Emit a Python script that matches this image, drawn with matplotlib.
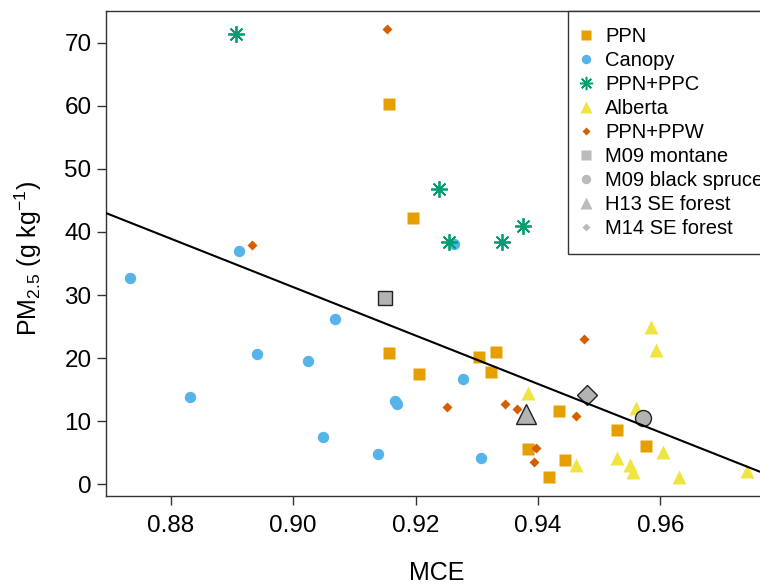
import matplotlib
matplotlib.use("Agg")
import matplotlib.pyplot as plt
from matplotlib.lines import Line2D
import numpy as np

plt.rcParams['font.family'] = ['Liberation Sans', 'DejaVu Sans']
plt.rcParams['mathtext.fontset'] = 'custom'
plt.rcParams['mathtext.rm'] = 'Liberation Sans'
plt.rcParams['mathtext.it'] = 'Liberation Sans:italic'
plt.rcParams['mathtext.bf'] = 'Liberation Sans:bold'

# ---- data (MCE, PM2.5 emission factor g/kg) ----
ppn_mce = [0.9156, 0.9195, 0.9156, 0.9205, 0.9304, 0.9332, 0.9324, 0.9434, 0.9529, 0.9576, 0.9383, 0.9444, 0.9418]
ppn_pm = [60.2, 42.2, 20.8, 17.5, 20.2, 21.0, 17.85, 11.6, 8.65, 6.0, 5.6, 3.9, 1.15]

canopy_mce = [0.8733, 0.8911, 0.9262, 0.9069, 0.8940, 0.9024, 0.8831, 0.9166, 0.9170, 0.9049, 0.9138, 0.9278, 0.9307]
canopy_pm = [32.7, 36.9, 38.1, 26.2, 20.7, 19.5, 13.8, 13.25, 12.7, 7.5, 4.75, 16.7, 4.2]

ppc_mce = [0.8907, 0.9239, 0.9255, 0.9341, 0.9375]
ppc_pm = [71.3, 46.75, 38.35, 38.35, 40.9]

alberta_mce = [0.9584, 0.9593, 0.9384, 0.9560, 0.9604, 0.9463, 0.9529, 0.9550, 0.9555, 0.9631, 0.9742]
alberta_pm = [24.9, 21.3, 14.5, 12.1, 5.2, 3.0, 4.2, 3.1, 2.0, 1.2, 2.15]

ppw_mce = [0.9154, 0.8933, 0.9475, 0.9251, 0.9346, 0.9366, 0.9462, 0.9397, 0.9393]
ppw_pm = [72.2, 37.9, 23.0, 12.3, 12.8, 12.0, 10.9, 5.7, 3.6]

m09_montane = (0.9150, 29.55)
m09_spruce = (0.9571, 10.55)
h13_se = (0.9380, 11.2)
m14_se = (0.9480, 14.1)

fit_intercept = 376.4
fit_slope = -383.5

legend_labels = ["PPN", "Canopy", "PPN+PPC", "Alberta", "PPN+PPW",
                 "M09 montane", "M09 black spruce", "H13 SE forest", "M14 SE forest"]
x_ticks = [0.88, 0.90, 0.92, 0.94, 0.96]
y_ticks = [0, 10, 20, 30, 40, 50, 60, 70]

# ---- colours ----
c_ppn = '#E69F00'
c_can = '#56B4E9'
c_ppc = '#009E73'
c_alb = '#F0E442'
c_ppw = '#D55E00'
c_gray = '#B3B3B3'
c_axis = '#333333'

W, H = 760, 585
fig = plt.figure(figsize=(W / 100, H / 100), dpi=100)
left_px, right_px, top_px, bot_px = 106, 768, 10.7, 496
ax = fig.add_axes([left_px / W, 1 - bot_px / H, (right_px - left_px) / W, (bot_px - top_px) / H])

xlim = (0.8694, 0.9776)
ylim = (-1.85, 75.05)
ax.set_xlim(*xlim)
ax.set_ylim(*ylim)

ax.plot(ppn_mce, ppn_pm, ls='none', marker='s', ms=8, mfc=c_ppn, mec='none', zorder=3)
ax.plot(canopy_mce, canopy_pm, ls='none', marker='o', ms=8.2, mfc=c_can, mec='none', zorder=3)
ax.plot(alberta_mce, alberta_pm, ls='none', marker='^', ms=9.5, mfc=c_alb, mec='none', zorder=3)
ax.plot(ppw_mce, ppw_pm, ls='none', marker='D', ms=5.6, mfc=c_ppw, mec='none', zorder=3)
ax.plot(ppc_mce, ppc_pm, ls='none', marker=(8, 2, 0), ms=12, mec=c_ppc, mew=1.3, zorder=4)

gkw = dict(ls='none', mfc=c_gray, mec='#222222', mew=1.0, zorder=4)
ax.plot([m09_montane[0]], [m09_montane[1]], marker='s', ms=10.5, **gkw)
ax.plot([m09_spruce[0]], [m09_spruce[1]], marker='o', ms=11.5, **gkw)
ax.plot([h13_se[0]], [h13_se[1]], marker='^', ms=15, **gkw)
ax.plot([m14_se[0]], [m14_se[1]], marker='D', ms=10.5, **gkw)

xx = np.array(xlim)
ax.plot(xx, fit_intercept + fit_slope * xx, color='black', lw=1.5, zorder=5)

# axes styling
for s in ax.spines.values():
    s.set_color(c_axis)
    s.set_linewidth(1.0)
ax.set_xticks(x_ticks)
ax.set_xticklabels([f"{v:.2f}" for v in x_ticks])
ax.set_yticks(y_ticks)
ax.set_yticklabels([str(v) for v in y_ticks])
ax.tick_params(axis='both', direction='out', length=6.5, width=1.0, color=c_axis, labelsize=17.5)
ax.tick_params(axis='x', pad=7)
ax.tick_params(axis='y', pad=4)

ax.set_xlabel('MCE', fontsize=18)
ax.xaxis.set_label_coords(0.5, -0.158)
ax.xaxis.label.set_verticalalignment('center')
ax.set_ylabel(r'PM$_{\mathrm{2.5}}$ (g kg$^{\mathrm{-1}}$)', fontsize=18)
ax.yaxis.set_label_coords(-0.118, 0.49)
ax.yaxis.label.set_verticalalignment('center')

# legend
lg_gray = '#BBBBBB'
handles = [
    Line2D([], [], ls='none', marker='s', ms=6.5, mfc=c_ppn, mec='none'),
    Line2D([], [], ls='none', marker='o', ms=6.8, mfc=c_can, mec='none'),
    Line2D([], [], ls='none', marker=(8, 2, 0), ms=9.5, mec=c_ppc, mew=1.1),
    Line2D([], [], ls='none', marker='^', ms=8, mfc=c_alb, mec='none'),
    Line2D([], [], ls='none', marker='D', ms=4.3, mfc=c_ppw, mec='none'),
    Line2D([], [], ls='none', marker='s', ms=6.5, mfc=lg_gray, mec='none'),
    Line2D([], [], ls='none', marker='o', ms=6.8, mfc=lg_gray, mec='none'),
    Line2D([], [], ls='none', marker='^', ms=8, mfc=lg_gray, mec='none'),
    Line2D([], [], ls='none', marker='D', ms=4.3, mfc=lg_gray, mec='none'),
]
leg_x = (567.7 - left_px) / (right_px - left_px)
leg = ax.legend(handles, legend_labels, loc='upper left', bbox_to_anchor=(leg_x, 1.0),
                borderaxespad=0, fontsize=14.5, frameon=True, fancybox=False,
                framealpha=1, edgecolor=c_axis, borderpad=0.8, handlelength=0.2,
                handletextpad=0.85, labelspacing=0.25)
leg.get_frame().set_linewidth(1.0)
leg.set_zorder(10)

fig.savefig('out.png', dpi=100)
